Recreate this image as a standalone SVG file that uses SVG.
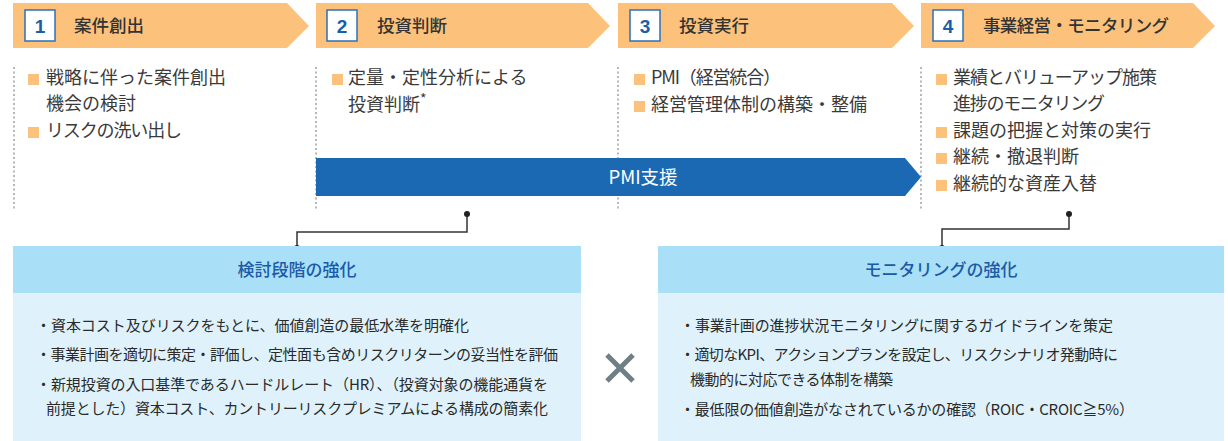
<svg xmlns="http://www.w3.org/2000/svg" width="1228" height="441" viewBox="0 0 1228 441">
<defs>
<style>
.hdr{fill:#fcc27c}
.nbox{fill:#fff;stroke:#2f6fb6;stroke-width:1.5}
.num{font-family:"Liberation Sans",Arial,sans-serif;font-weight:bold;font-size:19px;fill:#1a5ea8;text-anchor:middle}
.ttl{font-family:"Noto Sans CJK JP",sans-serif;font-size:17.5px;fill:#333;font-weight:500}
.sq{fill:#fcc27c}
.itm{font-family:"Noto Sans CJK JP",sans-serif;font-size:18px;fill:#3a3a3a}
.dot{stroke:#888;stroke-width:1.2;stroke-dasharray:2 2.5;fill:none}
.con{stroke:#333;stroke-width:1.5;fill:none}
.cdot{fill:#222}
.bhd{fill:#aadff8}
.bbd{fill:#dff2fb}
.btl{font-family:"Noto Sans CJK JP",sans-serif;font-size:17px;fill:#1a5aa6;text-anchor:middle;font-weight:500}
.btx{font-family:"Noto Sans CJK JP",sans-serif;font-size:15px;fill:#2a2a2a}
</style>
</defs>
<rect width="1228" height="441" fill="#fff"/>

<g id="step1">
<polygon class="hdr" points="13,3 287,3 309,26 287,48 13,48"/>
<rect class="nbox" x="25" y="10" width="30" height="31"/>
<text class="num" x="40" y="33">1</text>
<text class="ttl" x="74" y="32">案件創出</text>
</g>
<g id="step2">
<polygon class="hdr" points="316,3 588,3 610,26 588,48 316,48"/>
<rect class="nbox" x="327" y="10" width="30" height="31"/>
<text class="num" x="342" y="33">2</text>
<text class="ttl" x="377" y="32">投資判断</text>
</g>
<g id="step3">
<polygon class="hdr" points="618,3 892,3 914,26 892,48 618,48"/>
<rect class="nbox" x="630" y="10" width="30" height="31"/>
<text class="num" x="645" y="33">3</text>
<text class="ttl" x="679" y="32">投資実行</text>
</g>
<g id="step4">
<polygon class="hdr" points="921,3 1193,3 1215,26 1193,48 921,48"/>
<rect class="nbox" x="933" y="10" width="30" height="31"/>
<text class="num" x="948" y="33">4</text>
<text class="ttl" x="983" y="32" textLength="186" lengthAdjust="spacing">事業経営・モニタリング</text>
</g>

<g id="dividers">
<line class="dot" x1="14" y1="67" x2="14" y2="211"/>
<line class="dot" x1="316" y1="67" x2="316" y2="211"/>
<line class="dot" x1="618" y1="67" x2="618" y2="211"/>
<line class="dot" x1="921" y1="67" x2="921" y2="211"/>
</g>

<g id="col1">
<rect class="sq" x="28" y="74" width="11" height="11"/>
<text class="itm" x="46" y="84">戦略に伴った案件創出</text>
<text class="itm" x="46" y="110">機会の検討</text>
<rect class="sq" x="28" y="127" width="11" height="11"/>
<text class="itm" x="46" y="137" textLength="136" lengthAdjust="spacing">リスクの洗い出し</text>
</g>
<g id="col2">
<rect class="sq" x="332" y="74" width="11" height="11"/>
<text class="itm" x="348" y="84">定量・定性分析による</text>
<text class="itm" x="348" y="111">投資判断<tspan font-size="14" dy="-7">*</tspan></text>
</g>
<g id="col3">
<rect class="sq" x="634" y="74" width="11" height="11"/>
<text class="itm" x="651" y="84" textLength="130" lengthAdjust="spacing">PMI（経営統合）</text>
<rect class="sq" x="634" y="101" width="11" height="11"/>
<text class="itm" x="651" y="111">経営管理体制の構築・整備</text>
</g>
<g id="col4">
<rect class="sq" x="936" y="74" width="11" height="11"/>
<text class="itm" x="953" y="84" textLength="204" lengthAdjust="spacing">業績とバリューアップ施策</text>
<text class="itm" x="953" y="110" textLength="152" lengthAdjust="spacing">進捗のモニタリング</text>
<rect class="sq" x="936" y="127" width="11" height="11"/>
<text class="itm" x="953" y="137">課題の把握と対策の実行</text>
<rect class="sq" x="936" y="153" width="11" height="11"/>
<text class="itm" x="953" y="163">継続・撤退判断</text>
<rect class="sq" x="936" y="180" width="11" height="11"/>
<text class="itm" x="953" y="190">継続的な資産入替</text>
</g>

<g id="pmi">
<polygon fill="#1b68b3" points="316,158 905,158 921,177 905,196 316,196"/>
<text x="643" y="184" font-family="Noto Sans CJK JP,sans-serif" font-size="18.5" fill="#fff" text-anchor="middle">PMI支援</text>
</g>

<g id="connectors">
<polyline class="con" points="467,214 467,232 297,232 297,248"/>
<circle class="cdot" cx="467" cy="214" r="3"/>
<circle class="cdot" cx="297" cy="248" r="3"/>
<polyline class="con" points="1069,214 1069,229 942,229 942,248"/>
<circle class="cdot" cx="1069" cy="214" r="3"/>
<circle class="cdot" cx="942" cy="248" r="3"/>
</g>

<g id="box-left">
<rect class="bhd" x="13" y="246" width="568" height="47"/>
<rect class="bbd" x="13" y="293" width="568" height="148"/>
<text class="btl" x="297" y="276">検討段階の強化</text>
<text class="btx" x="36" y="331" textLength="433" lengthAdjust="spacing">・資本コスト及びリスクをもとに、価値創造の最低水準を明確化</text>
<text class="btx" x="36" y="360" textLength="522" lengthAdjust="spacing">・事業計画を適切に策定・評価し、定性面も含めリスクリターンの妥当性を評価</text>
<text class="btx" x="36" y="390" textLength="512" lengthAdjust="spacing">・新規投資の入口基準であるハードルレート（HR）、（投資対象の機能通貨を</text>
<text class="btx" x="46" y="414" textLength="502" lengthAdjust="spacing">前提とした）資本コスト、カントリーリスクプレミアムによる構成の簡素化</text>
</g>

<g id="times">
<path d="M607,355 L633,381 M633,355 L607,381" stroke="#6e7f86" stroke-width="5" fill="none"/>
</g>

<g id="box-right">
<rect class="bhd" x="658" y="246" width="566" height="47"/>
<rect class="bbd" x="658" y="293" width="566" height="148"/>
<text class="btl" x="941" y="276">モニタリングの強化</text>
<text class="btx" x="680" y="331" textLength="433" lengthAdjust="spacing">・事業計画の進捗状況モニタリングに関するガイドラインを策定</text>
<text class="btx" x="680" y="360" textLength="438" lengthAdjust="spacing">・適切なKPI、アクションプランを設定し、リスクシナリオ発動時に</text>
<text class="btx" x="690" y="385" textLength="203" lengthAdjust="spacing">機動的に対応できる体制を構築</text>
<text class="btx" x="680" y="415" textLength="454" lengthAdjust="spacing">・最低限の価値創造がなされているかの確認（ROIC・CROIC≧5%）</text>
</g>
</svg>
